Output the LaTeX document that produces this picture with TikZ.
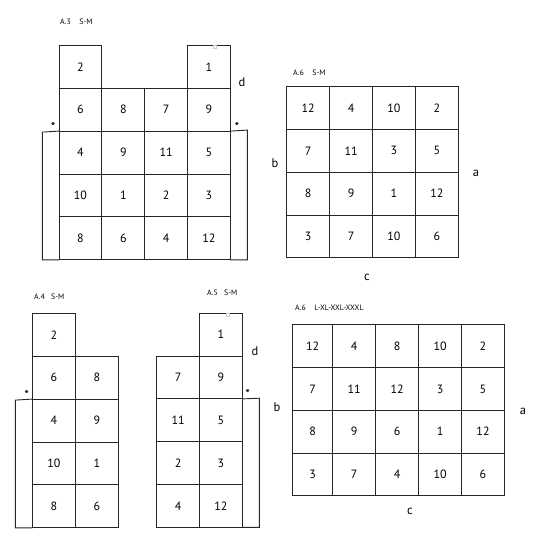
\documentclass[tikz,border=0pt]{standalone}
\usepackage{fontspec}
\setmainfont{PT Sans}
\begin{document}
\begin{tikzpicture}[x=1pt,y=-1pt,
  ln/.style={line width=0.9pt, draw=black!85},
  cell/.style={ln, anchor=north west, inner sep=0pt, outer sep=0pt, minimum width=43pt, minimum height=43pt, font=\fontsize{12}{14}\selectfont},
  lbl/.style={font=\fontsize{12.5}{14}\selectfont, inner sep=0pt},
  ttl/.style={font=\fontsize{7.8}{9}\selectfont, anchor=west, inner sep=0pt},
  star/.style={font=\fontsize{11}{12}\selectfont\bfseries, inner sep=0pt}]
\useasboundingbox (0,0) rectangle (550,560);
% ---------- A.3 ----------
\tikzset{c3/.style={cell, minimum width=42.85pt, minimum height=42.9pt}}
\node[ttl] (t3) at (60,22) {A.3\hspace{1.1em}S-M};
\node[c3] (a3-1-1) at (59,45.3) {2};
\node[c3] (a3-1-4) at (187.55,45.3) {1};
\foreach \r/\row in {2/{6,8,7,9},3/{4,9,11,5},4/{10,1,2,3},5/{8,6,4,12}}
  \foreach \v [count=\c] in \row
    \node[c3] (a3-\r-\c) at ({59+(\c-1)*42.85},{45.3+(\r-1)*42.9}) {\v};
\draw[ln] (a3-3-1.north west) -- ++(-16.7,1) |- (a3-5-1.south west);
\draw[ln] (a3-3-4.north east) -- ++(17,-1) |- (a3-5-4.south east);
\node[star] (s3l) at (53.3,126) {*};
\node[star] (s3r) at (237,126) {*};
\node[lbl] (d3) at (242,82) {d};
\draw[gray!40, line width=0.5pt] (213.5,45.2) rectangle (216.5,48.2);
% ---------- A.6 S-M ----------
\tikzset{c6/.style={cell, minimum width=42.9pt, minimum height=42.75pt}}
\node[ttl] (t6) at (293,73) {A.6\hspace{1.1em}S-M};
\foreach \r/\row in {1/{12,4,10,2},2/{7,11,3,5},3/{8,9,1,12},4/{3,7,10,6}}
  \foreach \v [count=\c] in \row
    \node[c6] (a6-\r-\c) at ({286.7+(\c-1)*42.9},{86.7+(\r-1)*42.75}) {\v};
\node[lbl] (b6) at (275,163) {b};
\node[lbl] (aa6) at (476,173) {a};
\node[lbl] (c6) at (367,277) {c};
% ---------- A.4 ----------
\tikzset{c4/.style={cell, minimum width=43pt, minimum height=42.9pt}}
\node[ttl] (t4) at (34,297) {A.4\hspace{0.8em}S-M};
\node[c4] (a4-1-1) at (32.3,313.3) {2};
\foreach \r/\row in {2/{6,8},3/{4,9},4/{10,1},5/{8,6}}
  \foreach \v [count=\c] in \row
    \node[c4] (a4-\r-\c) at ({32.3+(\c-1)*43},{313.3+(\r-1)*42.9}) {\v};
\draw[ln] (a4-3-1.north west) -- ++(-17,1) |- (a4-5-1.south west);
\node[star] (s4) at (26.7,394.3) {*};
% ---------- A.5 ----------
\tikzset{c5/.style={cell, minimum width=42.8pt, minimum height=42.8pt}}
\node[ttl] (t5) at (207,293) {A.5\hspace{0.8em}S-M};
\node[c5] (a5-1-2) at (199.5,313.3) {1};
\foreach \r/\row in {2/{7,9},3/{11,5},4/{2,3},5/{4,12}}
  \foreach \v [count=\c] in \row
    \node[c5] (a5-\r-\c) at ({156.7+(\c-1)*42.8},{313.3+(\r-1)*42.8}) {\v};
\draw[ln] (a5-3-2.north east) -- ++(17,-0.7) |- (a5-5-2.south east);
\node[star] (s5) at (247.7,393.7) {*};
\node[lbl] (d5) at (255,351) {d};
\node[lbl] (b5) at (277,407) {b};
\draw[gray!40, line width=0.5pt] (226.5,313.4) rectangle (229.5,316.4);
% ---------- A.6 L-XL-XXL-XXXL ----------
\node[ttl] (t6l) at (295,308) {A.6\hspace{1.1em}L-XL-XXL-XXXL};
\foreach \r/\row in {1/{12,4,8,10,2},2/{7,11,12,3,5},3/{8,9,6,1,12},4/{3,7,4,10,6}}
  \foreach \v [count=\c] in \row {
    \pgfmathsetmacro\xx{{292.7,332.7,375.7,418.7,461.7}[\c-1]}
    \pgfmathsetmacro\ww{{40,43,43,43,42.6}[\c-1]}
    \node[cell, minimum width=\ww pt, minimum height=42.8pt] (a6l-\r-\c) at (\xx,{324.7+(\r-1)*42.8}) {\v};
  }
\node[lbl] (a6l) at (523,411) {a};
\node[lbl] (c6l) at (410,511) {c};
\end{tikzpicture}
\end{document}
